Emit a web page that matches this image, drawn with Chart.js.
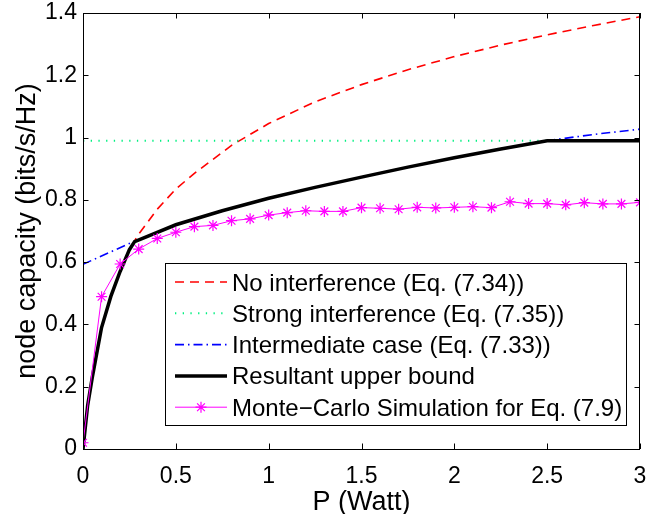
<!DOCTYPE html>
<html><head><meta charset="utf-8">
<script src="https://cdn.jsdelivr.net/npm/chart.js@4/dist/chart.umd.min.js"></script>
<style>html,body{margin:0;padding:0;background:#fff;}#wrap{width:647px;height:514px;}</style>
</head><body><div id="wrap"><canvas id="c" width="647" height="514"></canvas></div>
<script>
// ---- data ----
const xTickValues = [0, 0.5, 1, 1.5, 2, 2.5, 3];
const xTickLabels = ['0', '0.5', '1', '1.5', '2', '2.5', '3'];
const yTickValues = [0, 0.2, 0.4, 0.6, 0.8, 1, 1.2, 1.4];
const yTickLabels = ['0', '0.2', '0.4', '0.6', '0.8', '1', '1.2', '1.4'];
const seriesLabels = [
  'No interference (Eq. (7.34))',
  'Strong interference (Eq. (7.35))',
  'Intermediate case (Eq. (7.33))',
  'Resultant upper bound',
  'Monte\u2212Carlo Simulation for Eq. (7.9)'
];
const noIntP = [0, 0.025, 0.05, 0.1, 0.15, 0.2, 0.25, 0.3, 0.4, 0.5, 0.6, 0.7, 0.8, 0.9, 1.0, 1.25, 1.5, 1.75, 2.0, 2.25, 2.5, 2.75, 3.0];
const noIntC = [0, 0.14, 0.23, 0.39, 0.49, 0.57, 0.64, 0.69, 0.77, 0.835, 0.885, 0.93, 0.975, 1.01, 1.045, 1.115, 1.17, 1.218, 1.26, 1.297, 1.33, 1.36, 1.388];
const strongP = [0, 3];
const strongC = [0.99, 0.99];
const interP = [0, 0.25, 0.5, 0.75, 1.0, 1.25, 1.5, 1.75, 2.0, 2.25, 2.5, 2.75, 3.0];
const interC = [0.593, 0.66, 0.72, 0.765, 0.805, 0.84, 0.873, 0.905, 0.935, 0.963, 0.99, 1.01, 1.027];
const boundP = [0, 0.025, 0.05, 0.1, 0.15, 0.2, 0.25, 0.278, 0.5, 0.75, 1.0, 1.25, 1.5, 1.75, 2.0, 2.25, 2.5, 3.0];
const boundC = [0, 0.14, 0.23, 0.39, 0.49, 0.57, 0.64, 0.666, 0.72, 0.765, 0.805, 0.84, 0.873, 0.905, 0.935, 0.963, 0.99, 0.99];
const mcP = [0, 0.1, 0.2, 0.3, 0.4, 0.5, 0.6, 0.7, 0.8, 0.9, 1.0, 1.1, 1.2, 1.3, 1.4, 1.5, 1.6, 1.7, 1.8, 1.9, 2.0, 2.1, 2.2, 2.3, 2.4, 2.5, 2.6, 2.7, 2.8, 2.9, 3.0];
const mcC = [0.02, 0.489, 0.594, 0.642, 0.676, 0.696, 0.714, 0.718, 0.733, 0.739, 0.751, 0.759, 0.765, 0.763, 0.763, 0.775, 0.773, 0.770, 0.776, 0.774, 0.776, 0.778, 0.775, 0.794, 0.788, 0.788, 0.784, 0.791, 0.787, 0.787, 0.792];

const FONT = '"Liberation Sans", Arial, Helvetica, sans-serif';
Chart.defaults.font.family = FONT;
Chart.defaults.color = '#000';

const zip = (xs, ys) => xs.map((x, i) => ({x: x, y: ys[i]}));

const datasets = [
  {label: seriesLabels[0], data: zip(noIntP, noIntC), borderColor: '#ff0000', borderWidth: 1.6, borderDash: [9, 6], order: 5},
  {label: seriesLabels[1], data: zip(strongP, strongC), borderColor: '#00f080', borderWidth: 2, borderDash: [1.3, 6.4], order: 4},
  {label: seriesLabels[2], data: zip(interP, interC), borderColor: '#0000ff', borderWidth: 1.6, borderDash: [9, 4, 1.5, 4], order: 3},
  {label: seriesLabels[3], data: zip(boundP, boundC), borderColor: '#000000', borderWidth: 3.5, order: 2, borderJoinStyle: 'miter'},
  {label: seriesLabels[4], data: zip(mcP, mcC), borderColor: '#ff00ff', borderWidth: 1, order: 1,
   pointStyle: 'star', pointRadius: 5.5, pointBorderColor: '#ff00ff', pointBackgroundColor: '#ff00ff', pointBorderWidth: 1.2}
].map(d => Object.assign({showLine: true, fill: false, tension: 0, pointRadius: 0, backgroundColor: d.borderColor}, d));

const TICK_LEN = 5.5;
const boxTicks = {
  id: 'boxTicks',
  afterDatasetsDraw(chart) {
    const {ctx, chartArea: a} = chart;
    const xs = chart.scales.x, ys = chart.scales.y;
    ctx.save();
    ctx.strokeStyle = '#000';
    ctx.lineWidth = 1;
    ctx.setLineDash([]);
    ctx.beginPath();
    xTickValues.forEach(v => {
      const px = Math.round(xs.getPixelForValue(v)) + 0.5;
      ctx.moveTo(px, a.bottom); ctx.lineTo(px, a.bottom - TICK_LEN);
      ctx.moveTo(px, a.top); ctx.lineTo(px, a.top + TICK_LEN);
    });
    yTickValues.forEach(v => {
      const py = Math.round(ys.getPixelForValue(v)) + 0.5;
      ctx.moveTo(a.left, py); ctx.lineTo(a.left + TICK_LEN, py);
      ctx.moveTo(a.right, py); ctx.lineTo(a.right - TICK_LEN, py);
    });
    ctx.stroke();
    ctx.strokeRect(a.left + 0.5, a.top + 0.5, a.right - a.left - 1, a.bottom - a.top);
    ctx.restore();
  }
};

const boxLegend = {
  id: 'boxLegend',
  afterDraw(chart) {
    const {ctx, chartArea: a} = chart;
    const lx = a.left + 82, ly = a.top + 250, w = 461, h = 162;
    ctx.save();
    ctx.fillStyle = '#fff';
    ctx.fillRect(lx, ly, w, h);
    ctx.strokeStyle = '#000';
    ctx.lineWidth = 1;
    ctx.setLineDash([]);
    ctx.strokeRect(lx + 0.5, ly + 0.5, w, h);
    chart.data.datasets.forEach((d, i) => {
      const cy = ly + 19 + i * 31.3;
      ctx.save();
      ctx.strokeStyle = d.borderColor;
      ctx.lineWidth = d.borderWidth;
      ctx.setLineDash(d.borderDash || []);
      ctx.beginPath();
      ctx.moveTo(lx + 10, cy); ctx.lineTo(lx + 62, cy);
      ctx.stroke();
      ctx.restore();
      if (d.pointStyle) {
        ctx.strokeStyle = d.pointBorderColor;
        ctx.lineWidth = d.pointBorderWidth;
        ctx.setLineDash([]);
        ctx.beginPath();
        const r = d.pointRadius, cx = lx + 36;
        ctx.moveTo(cx - r, cy); ctx.lineTo(cx + r, cy);
        ctx.moveTo(cx, cy - r); ctx.lineTo(cx, cy + r);
        const q = r * Math.SQRT1_2;
        ctx.moveTo(cx - q, cy - q); ctx.lineTo(cx + q, cy + q);
        ctx.moveTo(cx - q, cy + q); ctx.lineTo(cx + q, cy - q);
        ctx.stroke();
      }
      ctx.fillStyle = '#000';
      ctx.font = '24px ' + FONT;
      ctx.textBaseline = 'alphabetic';
      ctx.textAlign = 'left';
      ctx.fillText(d.label, lx + 67, cy + 8.5);
    });
    ctx.restore();
  }
};

new Chart(document.getElementById('c'), {
  type: 'scatter',
  data: {datasets: datasets},
  options: {
    responsive: false,
    animation: false,
    devicePixelRatio: 1,
    layout: {padding: {left: 0, top: 13, right: 7, bottom: 0}},
    plugins: {legend: {display: false}, tooltip: {enabled: false}},
    scales: {
      x: {
        type: 'linear', min: 0, max: 3,
        afterBuildTicks: s => { s.ticks = xTickValues.map(v => ({value: v})); },
        afterFit: s => { s.height = 65; s.paddingLeft = 0; s.paddingRight = 0; },
        ticks: {font: {size: 23}, color: '#000', padding: 14, maxRotation: 0, autoSkip: false,
                callback: (v, i) => xTickLabels[i]},
        grid: {display: false, drawTicks: false},
        border: {display: false},
        title: {display: true, text: 'P (Watt)', font: {size: 27, lineHeight: 0.8}, color: '#000', padding: {top: 0, bottom: 0.6}}
      },
      y: {
        type: 'linear', min: 0, max: 1.4,
        afterBuildTicks: s => { s.ticks = yTickValues.map(v => ({value: v})); },
        afterFit: s => { s.width = 83; s.paddingTop = 0; s.paddingBottom = 0; },
        ticks: {font: {size: 23}, color: '#000', padding: 6, autoSkip: false,
                callback: (v, i) => yTickLabels[i]},
        grid: {display: false, drawTicks: false},
        border: {display: false},
        title: {display: true, text: 'node capacity (bits/s/Hz)', font: {size: 27}, color: '#000', padding: {top: 11, bottom: 0}}
      }
    }
  },
  plugins: [boxTicks, boxLegend]
});
</script>
</body></html>
